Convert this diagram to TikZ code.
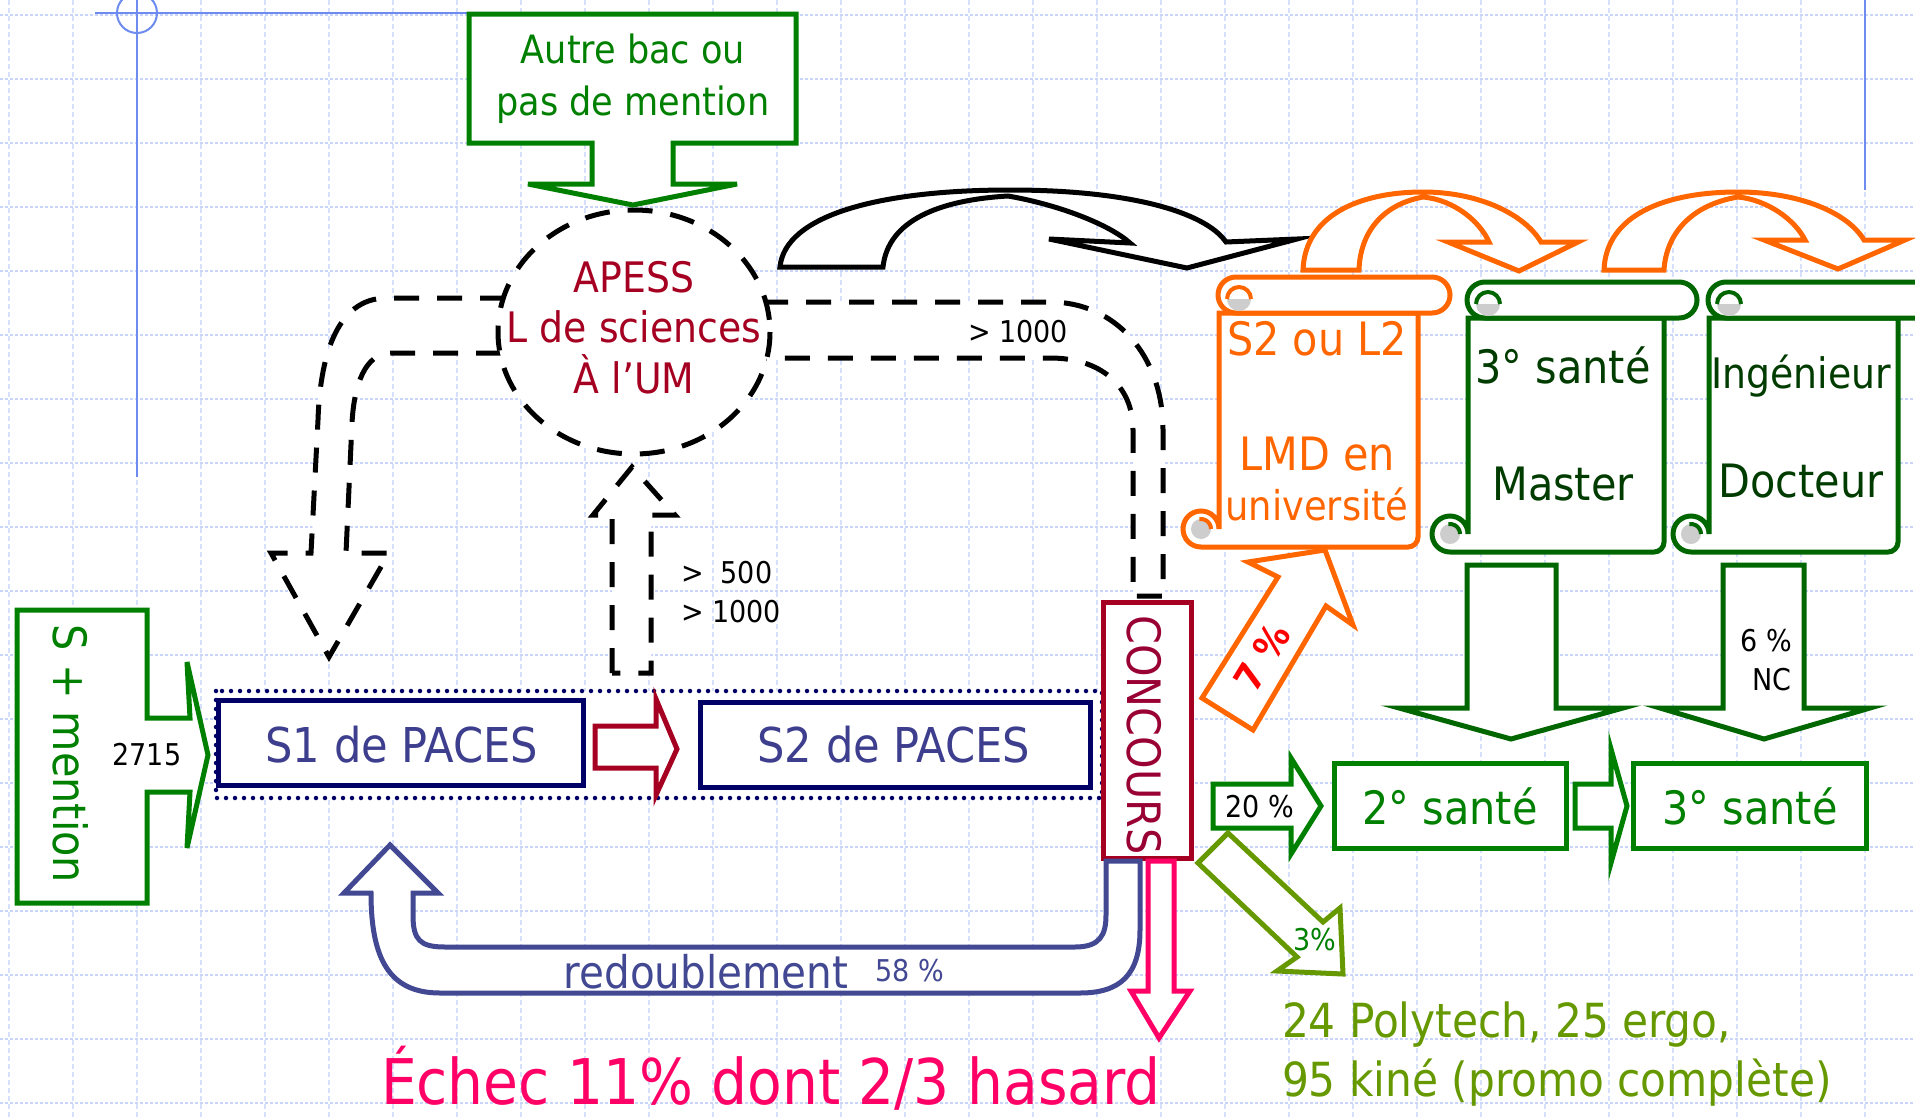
\documentclass[tikz,border=0pt]{standalone}
\usepackage{fontspec}
\setmainfont{DejaVu Sans Condensed}
\newcommand\myfs[1]{\fontsize{#1}{#1}\selectfont}
\definecolor{gA}{RGB}{0,128,0}
\definecolor{gD}{RGB}{0,102,0}
\definecolor{gT}{RGB}{0,60,0}
\definecolor{orA}{RGB}{255,102,0}
\definecolor{nav}{RGB}{0,0,102}
\definecolor{navT}{RGB}{62,62,142}
\definecolor{redb}{RGB}{66,72,146}
\definecolor{dred}{RGB}{165,0,33}
\definecolor{dredT}{RGB}{153,0,51}
\definecolor{pnk}{RGB}{255,0,102}
\definecolor{olv}{RGB}{102,153,0}
\definecolor{tmplc}{RGB}{110,140,240}
\definecolor{gridc}{RGB}{200,212,250}
\definecolor{curlg}{RGB}{205,205,205}
\tikzset{
 gridh/.style={draw=gridc, line width=2.2, dash pattern=on 3pt off 2pt},
 gridv/.style={draw=gridc!75, line width=2, dash pattern=on 5pt off 3pt},
 tmplline/.style={draw=tmplc, line width=2},
 shp/.style={line width=5, line join=miter, fill=white},
 dsh/.style={draw=black, line width=5, dash pattern=on 25pt off 18pt, fill=white},
 txt/.style={inner sep=0pt, outer sep=0pt, anchor=base},
}
\newcommand\myscroll[6]{%
 \filldraw[draw=#6, fill=white, line width=5] (#2,#4+36) -- (#2,#5-10) arc[start angle=0,end angle=90,radius=10] -- (#1-17,#5) arc[start angle=90,end angle=360,radius=18] -- (#1+1,#4+36) -- cycle;
 \fill[curlg] (#1-17,#5-18) circle (10);
 \draw[draw=#6, line width=4] (#1-7,#5-18) arc[start angle=0,end angle=-100,radius=10];
 \filldraw[draw=#6, fill=white, line width=5] (#1+18,#4) -- (#3-18,#4) arc[start angle=270,end angle=450,radius=18] -- (#1+18,#4+36) arc[start angle=90,end angle=270,radius=18] -- cycle;
 \fill[curlg] (#1+9,#4+22) arc[start angle=180,end angle=0,radius=12] -- cycle;
 \draw[draw=#6, line width=4] (#1+9,#4+22) arc[start angle=180,end angle=360,radius=12];
}
\begin{document}
\begin{tikzpicture}[x=1pt,y=-1pt]
\fill[white] (0,0) rectangle (1915,1119);
\useasboundingbox (0,0) rectangle (1915,1119);
% grid
\foreach \yy in {15,79,...,1103} \draw[gridh] (0,\yy) -- (1915,\yy);
\foreach \xx in {9,73,...,1870} \draw[gridv] (\xx,0) -- (\xx,1119);
% template lines
\draw[tmplline] (95,13) -- (480,13);
\draw[tmplline] (137,0) -- (137,477);
\draw[tmplline] (137,13) circle (20);
\draw[tmplline] (1865,0) -- (1865,190);

% left dashed U arrow
\filldraw[dsh] (634,298) -- (387,298) .. controls (335,298) and (320,360) .. (318,420) -- (311,553) -- (271,553) -- (329,657) -- (389,553) -- (346,553) -- (352,423) .. controls (354,385) and (365,353) .. (391,353) -- (634,353) -- cycle;
% right dashed path to CONCOURS
\filldraw[dsh] (634,302) -- (1050,302) .. controls (1115,302) and (1163,355) .. (1163,430) -- (1163,596) -- (1133,596) -- (1133,430) .. controls (1133,385) and (1100,358) .. (1050,358) -- (634,358) -- cycle;
% up dashed arrow
\filldraw[dsh] (612,673) -- (612,515) -- (593,515) -- (632,467) -- (675,515) -- (651,515) -- (651,673) -- cycle;
\node[txt, anchor=base west] (gt500) at (681,583) {\myfs{30}>~~500};
\node[txt, anchor=base west] (gt1000a) at (681,622) {\myfs{30}> 1000};
\node[txt, anchor=base west] (gt1000b) at (968,342) {\myfs{30}> 1000};

% APESS
\filldraw[dsh] (634,332) ellipse [x radius=136, y radius=122];
\node[txt, text=dred] (ap1) at (634,292) {\myfs{42}APESS};
\node[txt, text=dred] (ap2) at (634,342) {\myfs{42}L de sciences};
\node[txt, text=dred] (ap3) at (634,393) {\myfs{42}À l’UM};

% Autre bac callout
\filldraw[shp, draw=gA] (469,14) -- (796,14) -- (796,143) -- (673,143) -- (673,184) -- (737,184) -- (633,205) -- (528,184) -- (592,184) -- (592,143) -- (469,143) -- cycle;
\node[txt, text=gA] (au1) at (633,63) {\myfs{39}Autre bac ou};
\node[txt, text=gA] (au2) at (633,115) {\myfs{39}pas de mention};

% black curved arrow
\filldraw[shp, draw=black] (780,267) .. controls (785,215) and (880,190) .. (1010,190) .. controls (1130,190) and (1205,212) .. (1226,242) -- (1297,239) -- (1187,268) -- (1049,239) -- (1130,243) .. controls (1110,225) and (1060,205) .. (1008,196) .. controls (940,200) and (888,220) .. (883,267) -- cycle;

% scrolls
\myscroll{1218}{1418}{1450}{277}{547}{orA}
\myscroll{1467}{1664}{1697}{282}{552}{gD}
\myscroll{1708}{1898}{1960}{282}{552}{gD}
\node[txt, text=orA] (sc1a) at (1317,355) {\myfs{46}S2 ou L2};
\node[txt, text=orA] (sc1b) at (1317,470) {\myfs{46}LMD en};
\node[txt, text=orA] (sc1c) at (1317,520) {\myfs{41}université};
\node[txt, text=gT] (sc2a) at (1563,383) {\myfs{46}3° santé};
\node[txt, text=gT] (sc2b) at (1563,500) {\myfs{46}Master};
\node[txt, text=gT] (sc3a) at (1801,388) {\myfs{42}Ingénieur};
\node[txt, text=gT] (sc3b) at (1801,497) {\myfs{46}Docteur};

% orange curved arrows
\filldraw[shp, draw=orA] (1303,270) .. controls (1305,215) and (1360,192) .. (1423,192) .. controls (1480,192) and (1525,215) .. (1541,242) -- (1578,242) -- (1519,271) -- (1448,242) -- (1489,242) .. controls (1480,222) and (1455,200) .. (1423,197) .. controls (1380,205) and (1360,235) .. (1359,270) -- cycle;
\filldraw[shp, draw=orA] (1604,270) .. controls (1606,215) and (1665,192) .. (1738,192) .. controls (1800,192) and (1848,213) .. (1864,240) -- (1905,240) -- (1838,269) -- (1764,240) -- (1805,240) .. controls (1795,220) and (1768,200) .. (1738,197) .. controls (1690,205) and (1666,235) .. (1664,270) -- cycle;

% S + mention callout
\filldraw[shp, draw=gA] (17,610) -- (147,610) -- (147,718) -- (190,718) -- (187,662) -- (208,755) -- (187,848) -- (190,792) -- (147,792) -- (147,903) -- (17,903) -- cycle;
\node[txt, text=gA, rotate=-90] (smen) at (53,754) {\myfs{46}S + mention};
\node[txt] (n2715) at (147,765) {\myfs{30}2715};

% PACES
\filldraw[draw=nav, fill=white, line width=4.5, line cap=round, dash pattern=on 0pt off 9pt] (216,691) rectangle (1102,798);
\filldraw[shp, draw=nav] (218,700) rectangle (583,785);
\filldraw[shp, draw=nav] (700,702) rectangle (1090,787);
\node[txt, text=navT] (s1) at (402,762) {\myfs{48}S1 de PACES};
\node[txt, text=navT] (s2) at (894,762) {\myfs{48}S2 de PACES};
\filldraw[shp, draw=dred] (595,726) -- (656,726) -- (656,699) -- (677,749) -- (656,795) -- (656,768) -- (595,768) -- cycle;

% CONCOURS
\filldraw[shp, draw=dred] (1103,602) rectangle (1191,858);
\node[txt, text=dredT, rotate=-90] (conc) at (1127,735) {\myfs{46}CONCOURS};

% redoublement
\filldraw[shp, draw=redb] (390,845) -- (438,893) -- (413,893) -- (413,915) .. controls (413,940) and (420,947) .. (445,947) -- (1075,947) .. controls (1100,947) and (1106,935) .. (1106,915) -- (1106,861) -- (1140,861) -- (1140,930) .. controls (1140,975) and (1120,993) .. (1080,993) -- (440,993) .. controls (390,993) and (371,960) .. (371,893) -- (344,893) -- cycle;
\node[txt, text=redb] (redo) at (706,988) {\myfs{45}redoublement};
\node[txt, text=redb] (p58) at (910,981) {\myfs{30}58 \%};

% echec
\filldraw[shp, draw=pnk] (1148,861) -- (1174,861) -- (1174,991) -- (1190,991) -- (1159,1038) -- (1131,991) -- (1148,991) -- cycle;
\node[txt, text=pnk] (echec) at (771,1104) {\myfs{63}Échec 11\% dont 2/3 hasard};

% 7 %
\filldraw[shp, draw=orA] (1325,550) -- (1353,625) -- (1326,606) -- (1253,730) -- (1202,698) -- (1278,577) -- (1248,562) -- cycle;
\node[inner sep=0pt, text=red, rotate=58.7] (p7) at (1262,657) {\myfs{38}\bfseries 7 \%};

% 20 %
\filldraw[shp, draw=gA] (1213,784) -- (1291,784) -- (1291,758) -- (1321,806) -- (1291,854) -- (1291,828) -- (1213,828) -- cycle;
\node[txt] (p20) at (1260,817) {\myfs{30}20 \%};

% 3 %
\filldraw[shp, draw=olv] (1198,863) -- (1228,833) -- (1323,922) -- (1340,908) -- (1343,974) -- (1277,971) -- (1297,957) -- cycle;
\node[txt, text=gA] (p3) at (1315,950) {\myfs{30}3\%};

% sante boxes
\filldraw[shp, draw=gA] (1334,763) rectangle (1566,848);
\node[txt, text=gA] (s2s) at (1450,824) {\myfs{46}2° santé};
\filldraw[shp, draw=gA] (1575,784) -- (1611,784) -- (1611,749) -- (1627,806) -- (1611,863) -- (1611,828) -- (1575,828) -- cycle;
\filldraw[shp, draw=gA] (1633,763) rectangle (1866,848);
\node[txt, text=gA] (s3s) at (1750,824) {\myfs{46}3° santé};

% green down arrows
\filldraw[shp, draw=gD] (1467,565) -- (1556,565) -- (1556,708) -- (1623,708) -- (1511,739) -- (1399,708) -- (1467,708) -- cycle;
\filldraw[shp, draw=gD] (1723,565) -- (1804,565) -- (1804,708) -- (1870,708) -- (1764,739) -- (1660,708) -- (1723,708) -- cycle;
\node[txt] (p6) at (1766,651) {\myfs{30}6 \%};
\node[txt] (nc) at (1772,690) {\myfs{30}NC};

% bottom right text
\node[txt, anchor=base west, text=olv] (poly1) at (1282,1037) {\myfs{47}24 Polytech, 25 ergo,};
\node[txt, anchor=base west, text=olv] (poly2) at (1282,1096) {\myfs{47}95 kiné (promo complète)};
\end{tikzpicture}
\end{document}
